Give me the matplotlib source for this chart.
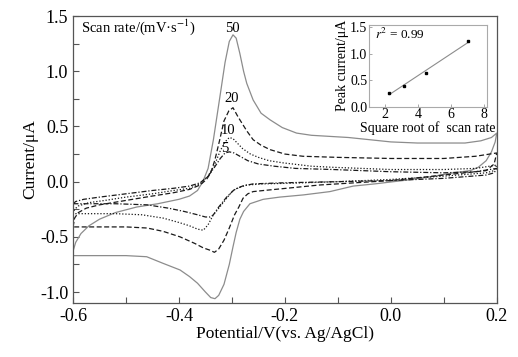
import numpy as np
import matplotlib
matplotlib.use("Agg")
import matplotlib.pyplot as plt

plt.rcParams['font.family'] = ['Liberation Serif', 'DejaVu Serif']
plt.rcParams['mathtext.fontset'] = 'stix'

# CV curves: forward (anodic) then reverse branch
E50 = [-0.600, -0.595, -0.585, -0.570, -0.550, -0.520, -0.480, -0.440, -0.400, -0.380,
       -0.365, -0.355, -0.345, -0.335, -0.323, -0.313, -0.305, -0.298, -0.292, -0.285,
       -0.278, -0.272, -0.260, -0.245, -0.228, -0.205, -0.178, -0.150, -0.115, -0.080,
       -0.040, 0.000, 0.050, 0.100, 0.140, 0.170, 0.190, 0.200,
       0.197, 0.190, 0.180, 0.165, 0.150, 0.118, 0.070, 0.023, -0.030, -0.071, -0.115,
       -0.165, -0.210, -0.241, -0.266, -0.278, -0.285, -0.292, -0.298, -0.305, -0.315,
       -0.325, -0.332, -0.340, -0.350, -0.365, -0.380, -0.398, -0.430, -0.461, -0.500,
       -0.550, -0.600, -0.600]
I50 = [-0.63, -0.55, -0.47, -0.40, -0.34, -0.28, -0.23, -0.20, -0.16, -0.13,
       -0.08, 0.00, 0.12, 0.38, 0.76, 1.08, 1.27, 1.33, 1.30, 1.16,
       1.00, 0.89, 0.74, 0.62, 0.56, 0.49, 0.44, 0.42, 0.41, 0.40,
       0.38, 0.36, 0.35, 0.35, 0.35, 0.37, 0.40, 0.44,
       0.36, 0.27, 0.19, 0.13, 0.10, 0.08, 0.04, 0.01, -0.02, -0.04, -0.09,
       -0.12, -0.14, -0.16, -0.20, -0.27, -0.34, -0.46, -0.59, -0.75, -0.93,
       -1.03, -1.06, -1.05, -1.00, -0.92, -0.86, -0.80, -0.74, -0.68, -0.67,
       -0.67, -0.67, -0.63]

E20 = [-0.600, -0.597, -0.590, -0.575, -0.550, -0.500, -0.450, -0.410, -0.380, -0.360,
       -0.348, -0.340, -0.332, -0.323, -0.315, -0.306, -0.298, -0.290, -0.285, -0.272,
       -0.260, -0.245, -0.228, -0.200, -0.166, -0.100, 0.000, 0.100, 0.160, 0.200,
       0.195, 0.180, 0.100, 0.000, -0.100, -0.134, -0.197, -0.240, -0.260, -0.270,
       -0.279, -0.287, -0.295, -0.305, -0.315, -0.325, -0.333, -0.342, -0.354, -0.370,
       -0.398, -0.430, -0.460, -0.500, -0.600, -0.600]
I20 = [-0.41, -0.33, -0.28, -0.24, -0.21, -0.17, -0.13, -0.10, -0.07, -0.03,
       0.02, 0.08, 0.20, 0.38, 0.55, 0.64, 0.67, 0.60, 0.56, 0.46,
       0.38, 0.33, 0.29, 0.25, 0.23, 0.22, 0.21, 0.21, 0.23, 0.26,
       0.16, 0.10, 0.06, 0.01, -0.02, -0.03, -0.06, -0.08, -0.09, -0.11,
       -0.15, -0.23, -0.30, -0.42, -0.53, -0.61, -0.64, -0.62, -0.60, -0.56,
       -0.50, -0.45, -0.42, -0.41, -0.41, -0.41]

E10 = [-0.600, -0.597, -0.590, -0.570, -0.540, -0.500, -0.450, -0.410, -0.380, -0.360,
       -0.345, -0.333, -0.322, -0.313, -0.305, -0.298, -0.290, -0.280, -0.265, -0.250,
       -0.230, -0.203, -0.150, -0.109, 0.000, 0.100, 0.160, 0.200,
       0.195, 0.180, 0.100, 0.000, -0.100, -0.197, -0.240, -0.272, -0.285, -0.298,
       -0.310, -0.323, -0.335, -0.345, -0.354, -0.365, -0.380, -0.400, -0.430, -0.470,
       -0.520, -0.600, -0.600]
I10 = [-0.29, -0.25, -0.22, -0.19, -0.17, -0.14, -0.11, -0.08, -0.06, -0.02,
       0.05, 0.15, 0.28, 0.36, 0.40, 0.39, 0.35, 0.30, 0.25, 0.22,
       0.19, 0.17, 0.14, 0.13, 0.11, 0.11, 0.12, 0.15,
       0.10, 0.08, 0.05, 0.02, 0.00, -0.015, -0.02, -0.03, -0.05, -0.08,
       -0.15, -0.23, -0.30, -0.39, -0.44, -0.43, -0.40, -0.37, -0.33, -0.30,
       -0.29, -0.29, -0.29]

E5 = [-0.600, -0.595, -0.580, -0.550, -0.500, -0.450, -0.410, -0.380, -0.360, -0.345,
      -0.333, -0.322, -0.313, -0.305, -0.296, -0.285, -0.270, -0.250, -0.220, -0.180,
      -0.109, 0.000, 0.100, 0.160, 0.200,
      0.195, 0.180, 0.100, 0.000, -0.100, -0.200, -0.260, -0.280, -0.295, -0.310,
      -0.325, -0.335, -0.341, -0.350, -0.365, -0.390, -0.420, -0.460, -0.520, -0.600,
      -0.600]
I5 = [-0.20, -0.18, -0.16, -0.14, -0.11, -0.08, -0.06, -0.04, -0.01, 0.05,
      0.13, 0.21, 0.26, 0.27, 0.26, 0.23, 0.19, 0.16, 0.14, 0.12,
      0.11, 0.09, 0.08, 0.09, 0.12,
      0.08, 0.06, 0.03, 0.01, 0.00, -0.01, -0.02, -0.04, -0.07, -0.14,
      -0.23, -0.30, -0.32, -0.32, -0.30, -0.27, -0.24, -0.21, -0.20, -0.20,
      -0.20]

# inset: peak current vs sqrt(scan rate)
sqrt_rate = [2.24, 3.16, 4.47, 7.07]
peak_current = [0.27, 0.40, 0.65, 1.24]

fig = plt.figure(figsize=(5.18, 3.57), dpi=100)
ax = fig.add_axes([0.141, 0.151, 0.818, 0.804])

ax.plot(E50, I50, color='#8c8c8c', lw=0.9, ls='-')
ax.plot(E20, I20, color='#1a1a1a', lw=0.9, ls=(0, (4, 2)))
ax.plot(E10, I10, color='#1a1a1a', lw=0.9, ls=(0, (1, 1.5)))
ax.plot(E5, I5, color='#1a1a1a', lw=0.9, ls=(0, (4, 1.5, 1, 1.5)))

ax.set_xlim(-0.6, 0.2)
ax.set_ylim(-1.1, 1.5)
ax.set_xticks([-0.6, -0.4, -0.2, 0.0, 0.2])
ax.set_xticks(np.arange(-0.5, 0.2, 0.2), minor=True)
ax.set_yticks([-1.0, -0.5, 0.0, 0.5, 1.0, 1.5])
ax.set_yticks([-0.75, -0.25, 0.25, 0.75, 1.25], minor=True)
ax.tick_params(which='both', direction='in', length=4, width=0.8, color='#555555',
               labelsize=13, top=False, right=False)
ax.xaxis.set_major_formatter(matplotlib.ticker.FormatStrFormatter('%.1f'))
ax.yaxis.set_major_formatter(matplotlib.ticker.FormatStrFormatter('%.1f'))
for s in ax.spines.values():
    s.set_color('#555555')
    s.set_linewidth(0.9)
ax.set_xlabel('Potential/V(vs. Ag/AgCl)', fontsize=12.5, labelpad=1)
ax.set_ylabel('Current/\u03bcA', fontsize=12.5, labelpad=1)

ax.text(-0.585, 1.36, 'Scan rate/(mV\u00b7s$^{-1}$)', fontsize=10.5)
ax.text(-0.300, 1.36, '50', fontsize=10.5, ha='center')
ax.text(-0.300, 0.72, '20', fontsize=10.5, ha='center')
ax.text(-0.307, 0.43, '10', fontsize=10.5, ha='center')
ax.text(-0.313, 0.27, '5', fontsize=10.5, ha='center')

# inset
ins = fig.add_axes([0.712, 0.700, 0.228, 0.231])
ins.plot(sqrt_rate, np.poly1d(np.polyfit(sqrt_rate, peak_current, 1))(sqrt_rate),
         color='#8c8c8c', lw=0.8)
ins.plot(sqrt_rate, peak_current, 's', color='black', ms=1.8)
ins.set_xlim(1.0, 8.2)
ins.set_ylim(0.0, 1.55)
ins.set_xticks([2, 4, 6, 8])
ins.set_yticks([0.0, 0.5, 1.0, 1.5])
ins.yaxis.set_major_formatter(matplotlib.ticker.FormatStrFormatter('%.1f'))
ins.tick_params(direction='in', length=2.5, width=0.6, color='#999999', labelsize=10,
                pad=1)
for s in ins.spines.values():
    s.set_color('#aaaaaa')
    s.set_linewidth(0.8)
ins.set_xlabel('Square root of  scan rate', fontsize=10, labelpad=0)
ins.set_ylabel('Peak current/\u03bcA', fontsize=10, labelpad=1)
ins.text(1.4, 1.28, '$r^2$ = 0.99', fontsize=9.5)

fig.savefig('out.png', dpi=100)
